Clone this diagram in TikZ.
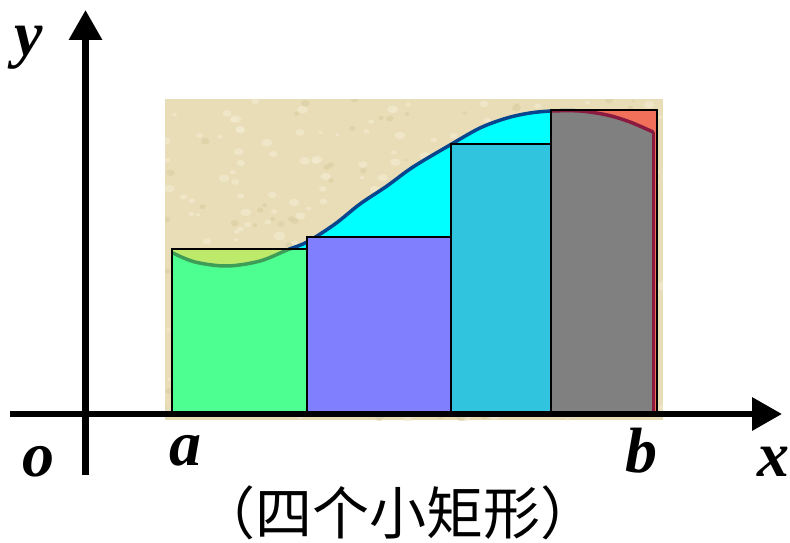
\documentclass[tikz,border=0pt]{standalone}
\usepackage{fontspec}
\setmainfont{Liberation Serif}
\newfontfamily\cjk{Noto Sans CJK SC}
\usetikzlibrary{arrows.meta}
\definecolor{beige}{HTML}{E8DDB6}
\definecolor{beigelight}{HTML}{F2EAD0}
\definecolor{beigedark}{HTML}{D9CDA2}
\definecolor{rcyan}{HTML}{00FFFF}
\definecolor{rgreen}{HTML}{4CFF90}
\definecolor{ryellow}{HTML}{BEEA6C}
\definecolor{rblue}{HTML}{8080FF}
\definecolor{rteal}{HTML}{30C4DE}
\definecolor{rgray}{HTML}{808080}
\definecolor{rsalmon}{HTML}{F0705A}
\definecolor{curveblue}{HTML}{07468E}
\definecolor{curvegreen}{HTML}{3E9E58}
\definecolor{curvered}{HTML}{8A1A40}
\begin{document}
\begin{tikzpicture}[x=1pt,y=-1pt,
  lbl/.style={inner sep=0pt,anchor=base,font=\fontsize{64}{64}\selectfont\bfseries\itshape},
  rectbox/.style={draw=black,line width=2.2pt},
  axis/.style={line width=6.5pt,-{Triangle[length=30pt,width=32pt]}},
  curvestroke/.style={line width=3.5pt,line cap=round}]
\useasboundingbox (0,0) rectangle (790,543);
% background texture panel
\fill[beige] (165,99) rectangle (663,420);
\begin{scope}
  \clip (165,99) rectangle (663,420);
  \pgfmathsetseed{7}
  \foreach \i in {1,...,260}{
    \pgfmathsetmacro{\px}{165+498*rnd}
    \pgfmathsetmacro{\py}{99+321*rnd}
    \pgfmathsetmacro{\pr}{2+4*rnd}
    \fill[beigelight,opacity=0.7] (\px,\py) ellipse ({\pr} and {0.7*\pr});
  }
  \foreach \i in {1,...,160}{
    \pgfmathsetmacro{\px}{165+498*rnd}
    \pgfmathsetmacro{\py}{99+321*rnd}
    \pgfmathsetmacro{\pr}{1.5+3*rnd}
    \fill[beigedark,opacity=0.6] (\px,\py) ellipse ({\pr} and {0.8*\pr});
  }
\end{scope}
% saved curve and region
\path[save path=\regionpath] plot[smooth,tension=0.55] coordinates {(173,253) (195,262) (227,266) (260,261) (287,250) (307,242) (335,224) (360,204) (387,186) (413,167) (450,145) (480,128) (507,118) (530,113) (552,111) (580,111) (607,115) (630,122) (653,132)} -- (653,412) -- (173,412) -- cycle;
\path[save path=\curvepath] plot[smooth,tension=0.55] coordinates {(173,253) (195,262) (227,266) (260,261) (287,250) (307,242) (335,224) (360,204) (387,186) (413,167) (450,145) (480,128) (507,118) (530,113) (552,111) (580,111) (607,115) (630,122) (653,132)};
% area under curve
\path[fill=rcyan,use path=\regionpath];
\path[draw=curveblue,curvestroke,use path=\curvepath];
% rectangles 2 and 3
\fill[rblue] (307,237) rectangle (451,412);
\fill[rteal] (451,144) rectangle (551,412);
% rectangle 1
\fill[ryellow] (172,249) rectangle (307,412);
\begin{scope}
  \clip (172,249) rectangle (307,412);
  \path[fill=rgreen,use path=\regionpath];
  \path[draw=curvegreen,curvestroke,use path=\curvepath];
\end{scope}
% rectangle 4
\fill[rsalmon] (551,110) rectangle (657,412);
\begin{scope}
  \clip (551,110) rectangle (657,412);
  \path[fill=rgray,use path=\regionpath];
  \path[draw=curvered,curvestroke,use path=\curvepath];
  \draw[curvered,line width=3pt] (653,132) -- (653,412);
\end{scope}
% rectangle outlines
\draw[rectbox] (172,249) rectangle (307,412);
\draw[rectbox] (307,237) rectangle (451,412);
\draw[rectbox] (451,144) rectangle (551,412);
\draw[rectbox] (551,110) rectangle (657,412);
% axes
\coordinate (xs) at (10,414);
\coordinate (xe) at (782,414);
\coordinate (ys) at (85.5,475);
\coordinate (ye) at (85.5,10);
\draw[axis] (xs) -- (xe);
\draw[axis] (ys) -- (ye);
% labels
\node[lbl] (ly) at (29,56) {y};
\node[lbl] (lo) at (38,476) {o};
\node[lbl] (la) at (185,465) {a};
\node[lbl] (lb) at (641,472) {b};
\node[lbl] (lx) at (773,476) {x};
\node[inner sep=0pt,font=\cjk\fontsize{57}{57}\selectfont] (cap) at (398,513) {（四个小矩形）};
\end{tikzpicture}
\end{document}
